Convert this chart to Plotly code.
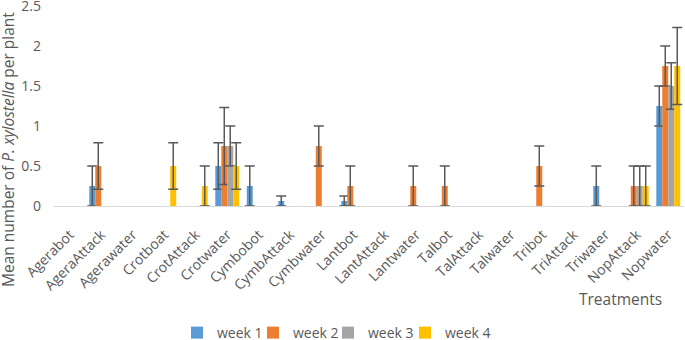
import plotly.graph_objects as go

categories = ["Agerabot", "AgeraAttack", "Agerawater", "Crotboat", "CrotAttack", "Crotwater",
              "Cymbobot", "CymbAttack", "Cymbwater", "Lantbot", "LantAttack", "Lantwater",
              "Talbot", "TalAttack", "Talwater", "Tribot", "TriAttack", "Triwater",
              "NopAttack", "Nopwater"]

week1 = [0, 0.25, 0, 0, 0, 0.5, 0.25, 0.0625, 0, 0.0625, 0, 0, 0, 0, 0, 0, 0, 0.25, 0, 1.25]
week2 = [0, 0.5, 0, 0, 0, 0.75, 0, 0, 0.75, 0.25, 0, 0.25, 0.25, 0, 0, 0.5, 0, 0, 0.25, 1.75]
week3 = [0, 0, 0, 0, 0, 0.75, 0, 0, 0, 0, 0, 0, 0, 0, 0, 0, 0, 0, 0.25, 1.5]
week4 = [0, 0, 0, 0.5, 0.25, 0.5, 0, 0, 0, 0, 0, 0, 0, 0, 0, 0, 0, 0, 0.25, 1.75]

err1 = [0, 0.25, 0, 0, 0, 0.29, 0.25, 0.0625, 0, 0.0625, 0, 0, 0, 0, 0, 0, 0, 0.25, 0, 0.25]
err2 = [0, 0.29, 0, 0, 0, 0.48, 0, 0, 0.25, 0.25, 0, 0.25, 0.25, 0, 0, 0.25, 0, 0, 0.25, 0.25]
err3 = [0, 0, 0, 0, 0, 0.25, 0, 0, 0, 0, 0, 0, 0, 0, 0, 0, 0, 0, 0.25, 0.29]
err4 = [0, 0, 0, 0.29, 0.25, 0.29, 0, 0, 0, 0, 0, 0, 0, 0, 0, 0, 0, 0, 0.25, 0.48]

series_names = ["week 1", "week 2", "week 3", "week 4"]
colors = ["#5B9BD5", "#ED7D31", "#A5A5A5", "#FFC000"]
values = [week1, week2, week3, week4]
errors = [err1, err2, err3, err4]

TXT = "#595959"
FONT = "Open Sans"

W, H = 685, 340
L, R, T, B = 54, 1, 6, 134
pw = W - L - R
ph = H - T - B

legend_text_starts = [217, 293, 368, 445]
legend_ids = ["legend", "legend2", "legend3", "legend4"]

fig = go.Figure()
for name, col, vals, errs, lid in zip(series_names, colors, values, errors, legend_ids):
    fig.add_trace(go.Bar(
        name=name,
        x=categories,
        y=[v if v > 0 else None for v in vals],
        marker=dict(color=col, line=dict(width=0)),
        error_y=dict(type="data", array=errs, visible=True,
                     color="#595959", thickness=1.5, width=5),
        legend=lid,
    ))

legend_layouts = {}
for lid, xs in zip(legend_ids, legend_text_starts):
    legend_layouts[lid] = dict(
        orientation="h", xref="paper", yref="paper",
        x=(xs - 40 - L) / pw, xanchor="left",
        y=(T + ph - 333) / ph, yanchor="middle",
        font=dict(size=14, color=TXT, family=FONT),
        itemwidth=30, bgcolor="rgba(0,0,0,0)", borderwidth=0)

fig.update_layout(
    width=W, height=H,
    margin=dict(l=L, r=R, t=T, b=B, autoexpand=False),
    paper_bgcolor="white", plot_bgcolor="white",
    barmode="group", bargap=0.24, bargroupgap=0,
    font=dict(family=FONT, color=TXT, size=14),
    showlegend=True,
    xaxis=dict(showline=True, linecolor="#D9D9D9", linewidth=1, showgrid=False,
               tickangle=-45, ticks="outside", ticklen=14, tickcolor="rgba(0,0,0,0)",
               tickfont=dict(size=14, color=TXT, family=FONT), zeroline=False,
               automargin=False),
    yaxis=dict(range=[0, 2.5], dtick=0.5, showline=False, showgrid=False, zeroline=False,
               tickfont=dict(size=14, color=TXT, family=FONT), ticks="",
               ticklabelstandoff=12, automargin=False, ticklabeloverflow="allow"),
    annotations=[
        dict(text="Mean number of <i>P. xylostella</i> per plant", textangle=-90,
             xref="paper", yref="paper", x=(8 - L) / pw, y=(T + ph - 150) / ph,
             xanchor="center", yanchor="middle", showarrow=False,
             font=dict(size=15.5, color=TXT, family=FONT)),
        dict(text="Treatments", xref="paper", yref="paper",
             x=(620 - L) / pw, y=(T + ph - 299) / ph,
             xanchor="center", yanchor="middle", showarrow=False,
             font=dict(size=15.5, color=TXT, family=FONT)),
    ],
    **legend_layouts,
)

fig.write_html("out.html", config={"displayModeBar": False},
               post_script="document.body.style.margin='0';document.body.style.overflow='hidden';")
